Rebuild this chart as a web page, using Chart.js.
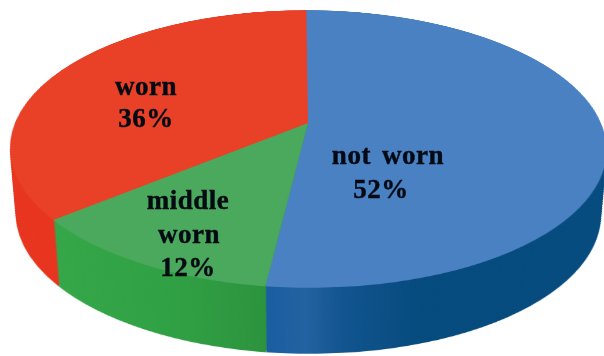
<!DOCTYPE html>
<html>
<head>
<meta charset="utf-8">
<script src="https://cdn.jsdelivr.net/npm/chart.js@4"></script>
<style>
html, body { margin: 0; background: #fff; overflow: hidden; }
#stage { position: relative; width: 604px; height: 356px; overflow: hidden; filter: blur(0.6px); }
#stage canvas { position: absolute; left: 0; top: 0; transform-origin: 0 0; }
.lbl { position: absolute; transform: translate(-50%, -50%); white-space: pre;
    font: bold 27px/33px "Liberation Serif", serif; color: #040a14; letter-spacing: 0.5px;
    word-spacing: 4px; -webkit-text-stroke: 0.4px #040a14; }
</style>
</head>
<body>
<div id="stage"></div>
<script>
var categories = ['not worn', 'middle worn', 'worn'];
var values = [52, 12, 36];
var labelLines = ['not worn', '52%', 'middle', 'worn', '12%', 'worn', '36%'];

var topColors = ['#4a81c2', '#4aa95c', '#e84127'];

var SIZE = 600, R = SIZE / 2;
var stage = document.getElementById('stage');

// the pie is a flat circle, the css homography tips it over like the 3d original
function tilt() {
    var cx = 308, cy = 123;   // apex on screen
    var a = 293, b = 134, k = -0.187, shear = 2;
    var K = k / R;
    var m44 = 1 - K * R;
    return 'matrix3d(' + [
        a / R, 0, 0, 0,
        cx * K + shear / R, cy * K + b / R, 0, K,
        0, 0, 1, 0,
        cx * m44 - a - shear, cy * m44 - b, 0, m44
    ].join(',') + ')';
}

function sideColors(ctx) {
    var red = ctx.createLinearGradient(0, 0, SIZE, 0);
    red.addColorStop(0, '#e8351f');
    red.addColorStop(1, '#e62d1a');
    var green = ctx.createLinearGradient(50, 0, 275, 0);
    green.addColorStop(0, '#35a849');
    green.addColorStop(0.6, '#30a044');
    green.addColorStop(1, '#2b913c');
    var blue = ctx.createLinearGradient(265, 0, 390, 0);
    blue.addColorStop(0, '#1a5ea2');
    blue.addColorStop(0.25, '#2262a0');
    blue.addColorStop(0.5, '#11548f');
    blue.addColorStop(1, '#064b7e');
    return [blue, green, red];
}

function addPie(colors, transform) {
    var canvas = document.createElement('canvas');
    canvas.width = SIZE;
    canvas.height = SIZE;
    canvas.style.transform = transform;
    stage.appendChild(canvas);
    var ctx = canvas.getContext('2d');
    new Chart(ctx, {
        type: 'pie',
        data: {
            labels: categories,
            datasets: [{
                data: values,
                backgroundColor: colors || sideColors(ctx),
                borderWidth: 0
            }]
        },
        options: {
            responsive: false,
            animation: false,
            devicePixelRatio: 1,
            layout: { padding: 0 },
            plugins: { legend: { display: false }, tooltip: { enabled: false } }
        }
    });
}

// side wall: same pie pushed down, bottom layer first
var DEPTH = 66;
for (var d = DEPTH; d > 0; d -= 2) {
    var sx = 1 - 0.02 * d / DEPTH;
    addPie(null, 'translate(305px,' + d + 'px) scaleX(' + sx + ') translateX(-305px) ' + tilt());
}
addPie(topColors, tilt());

var labelPos = [[388, 155], [381, 189], [188, 200], [189, 234], [188, 267], [146, 86], [146, 118]];
labelLines.forEach(function (txt, i) {
    var el = document.createElement('div');
    el.className = 'lbl';
    el.textContent = txt;
    el.style.left = labelPos[i][0] + 'px';
    el.style.top = labelPos[i][1] + 'px';
    stage.appendChild(el);
});
</script>
</body>
</html>
